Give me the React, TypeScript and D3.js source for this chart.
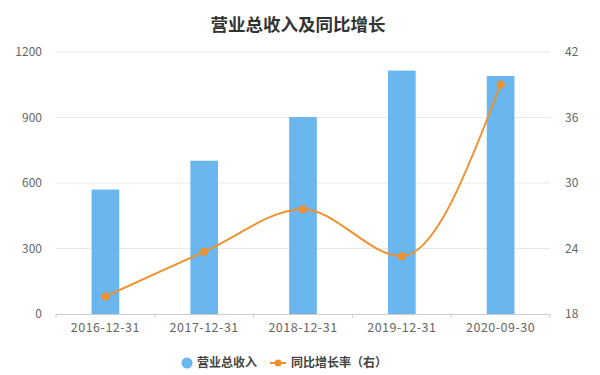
import React from "react";
import * as d3 from "d3";

const categories = ["2016-12-31", "2017-12-31", "2018-12-31", "2019-12-31", "2020-09-30"];
const revenue = [570, 702, 902, 1115, 1090];
const growth = [19.6, 23.7, 27.6, 23.3, 39.0];
const leftTicks = [0, 300, 600, 900, 1200];
const rightTicks = [18, 24, 30, 36, 42];
const title = "营业总收入及同比增长";
const legendBar = "营业总收入";
const legendLine = "同比增长率（右）";

const W = 600;
const H = 375;
const M = { left: 56, right: 550, top: 52, bottom: 314 };
const FONT = "'Noto Sans CJK SC', 'Noto Sans', sans-serif";
const BAR = "#6ab6ee";
const LINE = "#ef912f";

export default function App() {
  const x = d3.scaleBand<string>().domain(categories).range([M.left, M.right]).paddingInner(0.72).paddingOuter(0.36);
  const band = d3.scaleBand<string>().domain(categories).range([M.left, M.right]);
  const yL = d3.scaleLinear().domain([0, 1200]).range([M.bottom, M.top]);
  const yR = d3.scaleLinear().domain([18, 42]).range([M.bottom, M.top]);
  const cx = (c: string) => (band(c) as number) + band.bandwidth() / 2;
  const pts: [number, number][] = categories.map((c, i) => [cx(c), yR(growth[i])]);
  const line = d3.line().curve(d3.curveMonotoneX)(pts) || "";
  const boundaries = [...categories.map((c) => band(c) as number), M.right];

  return (
    <svg width={W} height={H} style={{ position: "absolute", left: 0, top: 0, background: "#fff" }} fontFamily={FONT}>
      <text x={298} y={31} textAnchor="middle" fontSize={17.5} fontWeight="bold" fill="#333">{title}</text>
      {leftTicks.map((t, i) => (
        <g key={"g" + t}>
          {t !== 0 && <line x1={M.left} x2={M.right} y1={yL(t)} y2={yL(t)} stroke="#e8e8e8" strokeWidth={1} />}
          <text x={42} y={yL(t)} dy="0.35em" textAnchor="end" fontSize={12} fill="#666">{t}</text>
          <text x={565} y={yR(rightTicks[i])} dy="0.35em" textAnchor="start" fontSize={12} fill="#666">{rightTicks[i]}</text>
        </g>
      ))}
      {categories.map((c, i) => (
        <rect key={c} x={x(c)} y={yL(revenue[i])} width={x.bandwidth()} height={M.bottom - yL(revenue[i])} fill={BAR} />
      ))}
      <line x1={M.left} x2={M.right} y1={M.bottom + 0.5} y2={M.bottom + 0.5} stroke="#ccc" />
      {boundaries.map((b, i) => (
        <line key={"t" + i} x1={b} x2={b} y1={M.bottom} y2={M.bottom + 4} stroke="#ccc" />
      ))}
      {categories.map((c) => (
        <text key={"l" + c} x={cx(c)} y={332} textAnchor="middle" fontSize={12.5} fill="#666" letterSpacing={0.5}>{c}</text>
      ))}
      <path d={line} fill="none" stroke={LINE} strokeWidth={2} />
      {pts.map((p, i) => (
        <circle key={"p" + i} cx={p[0]} cy={p[1]} r={4} fill={LINE} />
      ))}
      <circle cx={187} cy={363} r={5.5} fill={BAR} />
      <text x={197} y={363} dy="0.35em" fontSize={12} fontWeight="bold" fill="#444">{legendBar}</text>
      <line x1={270} x2={286} y1={363} y2={363} stroke={LINE} strokeWidth={2} />
      <circle cx={278} cy={363} r={3.5} fill={LINE} />
      <text x={291} y={363} dy="0.35em" fontSize={12} fontWeight="bold" fill="#444">{legendLine}</text>
    </svg>
  );
}
